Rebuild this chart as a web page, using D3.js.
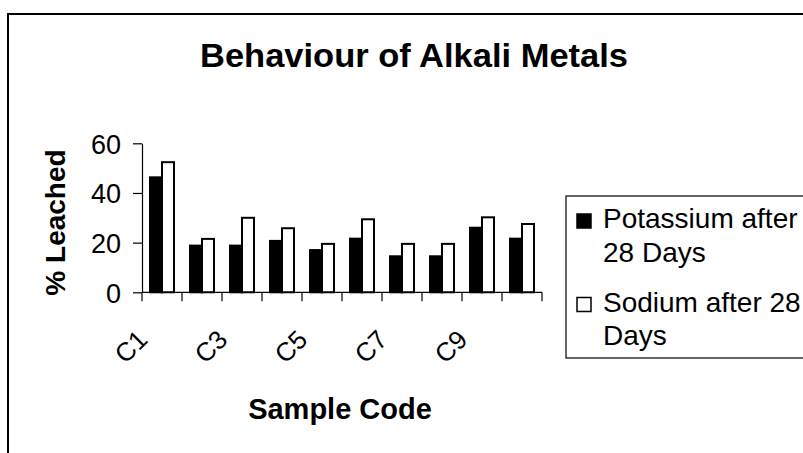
<!DOCTYPE html>
<html>
<head>
<meta charset="utf-8">
<script src="https://cdn.jsdelivr.net/npm/d3@7"></script>
<style>
  html, body { margin: 0; padding: 0; background: #fff; }
  svg { display: block; font-family: "Liberation Sans", Arial, sans-serif; }
</style>
</head>
<body>
<svg id="chart" width="803" height="453"></svg>
<script>
const categories = ["C1","C2","C3","C4","C5","C6","C7","C8","C9","C10"];
const tickLabels = ["C1","","C3","","C5","","C7","","C9",""];
const seriesNames = ["Potassium after 28 Days", "Sodium after 28 Days"];
const potassium = [46.3, 18.8, 18.8, 20.7, 17.0, 21.6, 14.5, 14.5, 26.0, 21.6];
const sodium    = [52.4, 21.5, 30.0, 25.8, 19.5, 29.4, 19.5, 19.5, 30.2, 27.5];
const yTicks = [0, 20, 40, 60];

const svg = d3.select("#chart");

// outer chart border (extends past the window on right and bottom)
svg.append("rect")
  .attr("x", 8).attr("y", 14).attr("width", 820).attr("height", 460)
  .attr("fill", "#fff").attr("stroke", "#000").attr("stroke-width", 2);

const plot = { left: 142, right: 542, top: 143.3, bottom: 292.3 };

const x0 = d3.scaleBand().domain(categories)
  .range([plot.left, plot.right]).paddingInner(0.4).paddingOuter(0.2);
const x1 = d3.scaleBand().domain([0, 1]).range([0, x0.bandwidth()]);
const y = d3.scaleLinear().domain([0, 60]).range([plot.bottom, plot.top]);

// title
svg.append("text")
  .attr("x", 414).attr("y", 67)
  .attr("text-anchor", "middle")
  .attr("font-weight", "bold").attr("font-size", 33)
  .attr("textLength", 428).attr("lengthAdjust", "spacingAndGlyphs")
  .text("Behaviour of Alkali Metals");

// bars
const data = categories.map((c, i) => ({ c, vals: [potassium[i], sodium[i]] }));
const fills = ["#000", "#fff"];
const g = svg.append("g");
const groups = g.selectAll("g.cat").data(data).join("g")
  .attr("class", "cat")
  .attr("transform", d => `translate(${x0(d.c)},0)`);
groups.selectAll("rect").data(d => d.vals.map((v, k) => ({ v, k }))).join("rect")
  .attr("x", d => x1(d.k))
  .attr("y", d => y(d.v))
  .attr("width", x1.bandwidth())
  .attr("height", d => y(0) - y(d.v))
  .attr("fill", d => fills[d.k])
  .attr("stroke", "#000")
  .attr("stroke-width", 2);

// y axis
const yAxis = d3.axisLeft(y).tickValues(yTicks).tickSize(9).tickPadding(12).tickSizeOuter(0);
const ya = svg.append("g").attr("transform", `translate(${plot.left},0)`).call(yAxis);
ya.select(".domain").attr("stroke", "#000").attr("stroke-width", 1.2);
ya.selectAll(".tick line").attr("stroke", "#000").attr("stroke-width", 1.2);
ya.selectAll(".tick text").attr("font-size", 27).attr("fill", "#000")
  .attr("font-family", "Liberation Sans, Arial, sans-serif").attr("dy", "0.36em");

// x axis with ticks at category boundaries
const step = x0.step();
const boundaries = d3.range(categories.length + 1).map(i => plot.left + i * step);
const xa = svg.append("g");
xa.append("line")
  .attr("x1", plot.left).attr("x2", plot.right)
  .attr("y1", y(0)).attr("y2", y(0))
  .attr("stroke", "#000").attr("stroke-width", 1.2);
xa.selectAll("line.tk").data(boundaries).join("line")
  .attr("class", "tk")
  .attr("x1", d => d).attr("x2", d => d)
  .attr("y1", y(0)).attr("y2", y(0) + 9)
  .attr("stroke", "#000").attr("stroke-width", 1.2);
xa.selectAll("text").data(categories).join("text")
  .attr("transform", (d, i) => `translate(${x0(d) + x0.bandwidth() / 2 - 13},${y(0) + 49}) rotate(-45)`)
  .attr("text-anchor", "end")
  .attr("font-size", 26)
  .text((d, i) => tickLabels[i]);

// axis titles
svg.append("text")
  .attr("x", 340).attr("y", 419)
  .attr("text-anchor", "middle")
  .attr("font-weight", "bold").attr("font-size", 29)
  .text("Sample Code");

svg.append("text")
  .attr("transform", "translate(65,222.5) rotate(-90)")
  .attr("text-anchor", "middle")
  .attr("font-weight", "bold").attr("font-size", 28)
  .text("% Leached");

// legend
const lg = svg.append("g");
lg.append("rect")
  .attr("x", 566).attr("y", 196).attr("width", 260).attr("height", 162)
  .attr("fill", "#fff").attr("stroke", "#000").attr("stroke-width", 1.2);
const legendLines = [["Potassium after", "28 Days"], ["Sodium after 28", "Days"]];
const legendTop = [214, 297.5];
seriesNames.forEach((name, k) => {
  lg.append("rect")
    .attr("x", 577).attr("y", legendTop[k]).attr("width", 14).attr("height", 14)
    .attr("fill", fills[k]).attr("stroke", "#000").attr("stroke-width", 1.5);
  const t = lg.append("text").attr("font-size", 28);
  legendLines[k].forEach((ln, j) => {
    t.append("tspan").attr("x", 603).attr("y", legendTop[k] + 14 + j * 33.5).text(ln);
  });
});
</script>
</body>
</html>
